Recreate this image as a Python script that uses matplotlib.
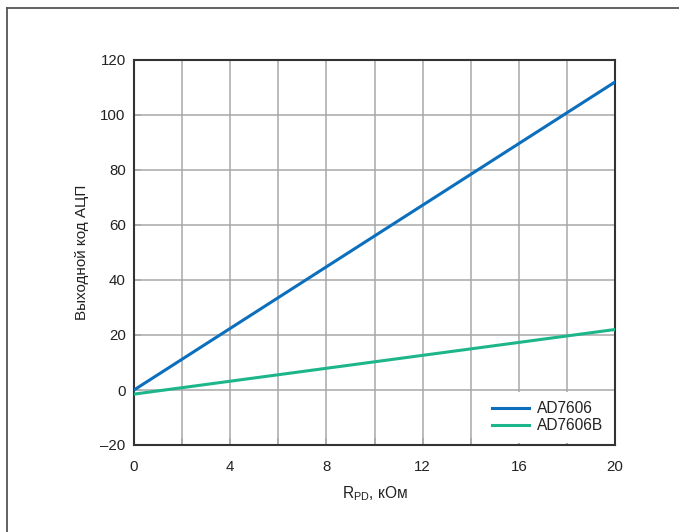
import numpy as np
import matplotlib
matplotlib.use('Agg')
import matplotlib.pyplot as plt
from matplotlib.ticker import FuncFormatter
from matplotlib.lines import Line2D

plt.rcParams['font.family'] = ['Liberation Sans', 'DejaVu Sans']
plt.rcParams['mathtext.fontset'] = 'custom'
plt.rcParams['mathtext.rm'] = 'Liberation Sans'

# data
r_pd = [0, 20]                 # kOhm
ad7606 = [0, 112]              # ADC code
ad7606b = [-1.5, 22]
series_names = ['AD7606', 'AD7606B']
x_ticks = [0, 4, 8, 12, 16, 20]
y_ticks = [-20, 0, 20, 40, 60, 80, 100, 120]

fig = plt.figure(figsize=(6.79, 5.32), dpi=100)
ax = fig.add_axes([134/679, 1 - 445/532, (615 - 134)/679, (445 - 60)/532])

# outer frame (left + top edges visible)
fig.add_artist(Line2D([7/679, 7/679], [0, 1 - 8/532], transform=fig.transFigure,
                      color='#555555', lw=1.3))
fig.add_artist(Line2D([7/679, 1], [1 - 8/532, 1 - 8/532], transform=fig.transFigure,
                      color='#555555', lw=1.3))

ax.plot(r_pd, ad7606, color='#0b6fbe', lw=2.2, label=series_names[0], zorder=3)
ax.plot(r_pd, ad7606b, color='#1db68a', lw=2.2, label=series_names[1], zorder=3)

ax.set_xlim(0, 20)
ax.set_ylim(-20, 120)
ax.set_xticks(x_ticks)
ax.set_xticks(np.arange(0, 21, 2), minor=True)
ax.set_yticks(y_ticks)
ax.grid(True, which='both', color='#a8a8a8', lw=1.1)
ax.set_axisbelow(True)
ax.tick_params(which='both', direction='in', length=5, color='#a8a8a8', width=1.1,
               labelsize=10.8, labelcolor='#222222')
ax.tick_params(axis='x', pad=11)
ax.tick_params(axis='y', pad=6)
fmt = FuncFormatter(lambda v, p: f'{v:g}'.replace('-', '\u2013'))
ax.xaxis.set_major_formatter(fmt)
ax.yaxis.set_major_formatter(fmt)
for s in ax.spines.values():
    s.set_color('#333333')
    s.set_linewidth(1.5)

ax.set_xlabel(r'R$_{\mathregular{PD}}$, кОм', fontsize=11.2, color='#222222', labelpad=7)
ax.set_ylabel('Выходной код АЦП', fontsize=11, color='#222222', labelpad=8)

leg = ax.legend(loc='lower right', bbox_to_anchor=(1.0, 0.0), frameon=True,
                fancybox=False, framealpha=1, edgecolor='none', facecolor='white',
                fontsize=11.2, handlelength=2.4, handletextpad=0.5, borderpad=0.6,
                labelspacing=0.15, borderaxespad=0.15)
for t in leg.get_texts():
    t.set_color('#222222')

fig.savefig('out.png', dpi=100)
